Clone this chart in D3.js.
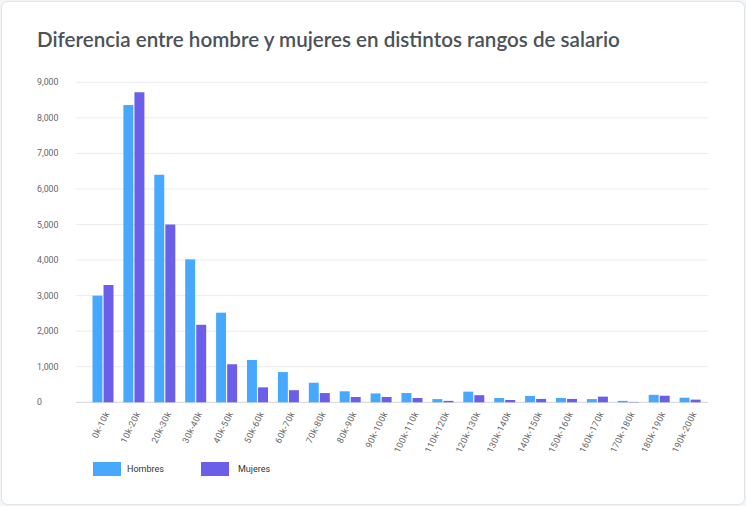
<!DOCTYPE html>
<html>
<head>
<meta charset="utf-8">
<script src="https://cdn.jsdelivr.net/npm/d3@7"></script>
<style>
  body { margin: 0; background: #f4f5f7; }
  svg { display: block; }
</style>
</head>
<body>
<div id="chart"></div>
<script>
// salary ranges on the x axis
const rangos = ["0k-10k", "10k-20k", "20k-30k", "30k-40k", "40k-50k", "50k-60k", "60k-70k",
  "70k-80k", "80k-90k", "90k-100k", "100k-110k", "110k-120k", "120k-130k", "130k-140k",
  "140k-150k", "150k-160k", "160k-170k", "170k-180k", "180k-190k", "190k-200k"];
const hombres = [3000, 8360, 6400, 4020, 2520, 1190, 850, 550, 310, 250, 260, 90, 300, 120, 180, 120, 90, 40, 210, 130];
const mujeres = [3300, 8720, 5000, 2180, 1070, 420, 340, 260, 150, 150, 120, 40, 200, 65, 95, 95, 160, 10, 185, 75];
const series = ["Hombres", "Mujeres"];
const colores = ["#47a8ff", "#6b5ee8"];
const yTicks = [0, 1000, 2000, 3000, 4000, 5000, 6000, 7000, 8000, 9000];

const width = 746, height = 506;
const svg = d3.select("#chart").append("svg")
  .attr("width", width).attr("height", height);

// card
svg.append("rect")
  .attr("x", 1.5).attr("y", 1.5)
  .attr("width", width - 3).attr("height", height - 3)
  .attr("rx", 6)
  .attr("fill", "#fff").attr("stroke", "#dfe2e6");

svg.append("text")
  .attr("x", 37).attr("y", 47)
  .attr("font-family", "Lato, sans-serif")
  .attr("font-size", 20.6).attr("font-weight", 600)
  .attr("fill", "#4b5258")
  .text("Diferencia entre hombre y mujeres en distintos rangos de salario");

let y = d3.scaleLinear().domain([0, 9000]).range([402.3, 82.3]);
let x0 = d3.scaleBand().domain(rangos).range([87.5, 705.5]);
let x1 = d3.scaleBand().domain(series).range([5, 26]).paddingInner(0.1);

// grid lines + y labels
let grid = svg.append("g");
grid.selectAll("line").data(yTicks).enter().append("line")
  .attr("x1", 76).attr("x2", 708)
  .attr("y1", d => y(d)).attr("y2", d => y(d))
  .attr("stroke", d => d === 0 ? "#d9dde2" : "#ececec")
  .attr("stroke-width", d => d === 0 ? 1.2 : 1);
grid.selectAll("text").data(yTicks).enter().append("text")
  .attr("x", 37).attr("y", d => y(d))
  .attr("dy", "0.35em")
  .attr("font-family", "Roboto, sans-serif").attr("font-size", 8.8)
  .attr("fill", "#666")
  .text(d3.format(","));

// bars
let groups = svg.selectAll(".grupo")
  .data(rangos.map((r, i) => ({ rango: r, valores: [hombres[i], mujeres[i]] })))
  .enter().append("g")
  .attr("class", "grupo")
  .attr("transform", d => "translate(" + x0(d.rango) + ",0)");

groups.selectAll("rect")
  .data(d => d.valores.map((v, j) => ({ serie: series[j], valor: v, color: colores[j] })))
  .enter().append("rect")
  .attr("x", d => x1(d.serie))
  .attr("width", x1.bandwidth())
  .attr("y", d => y(d.valor))
  .attr("height", d => y(0) - y(d.valor))
  .attr("fill", d => d.color);

// x labels
svg.append("g").selectAll("text").data(rangos).enter().append("text")
  .attr("transform", d => "translate(" + (x0(d) + x0.bandwidth() / 2 + 4) + ",412) rotate(-64)")
  .attr("text-anchor", "end")
  .attr("dy", "0.35em")
  .attr("font-family", "Roboto, sans-serif").attr("font-size", 9)
  .attr("letter-spacing", 0.3)
  .attr("fill", "#666")
  .text(d => d);

// legend
let legend = svg.append("g").selectAll("g").data(series).enter().append("g")
  .attr("transform", (d, i) => "translate(" + (93 + i * 108) + ",462)");
legend.append("rect")
  .attr("width", 28).attr("height", 14)
  .attr("fill", (d, i) => colores[i]);
legend.append("text")
  .attr("x", (d, i) => i === 0 ? 34 : 37).attr("y", 7)
  .attr("dy", "0.35em")
  .attr("font-family", "Roboto, sans-serif").attr("font-size", 9)
  .attr("fill", "#333")
  .text(d => d);
</script>
</body>
</html>
